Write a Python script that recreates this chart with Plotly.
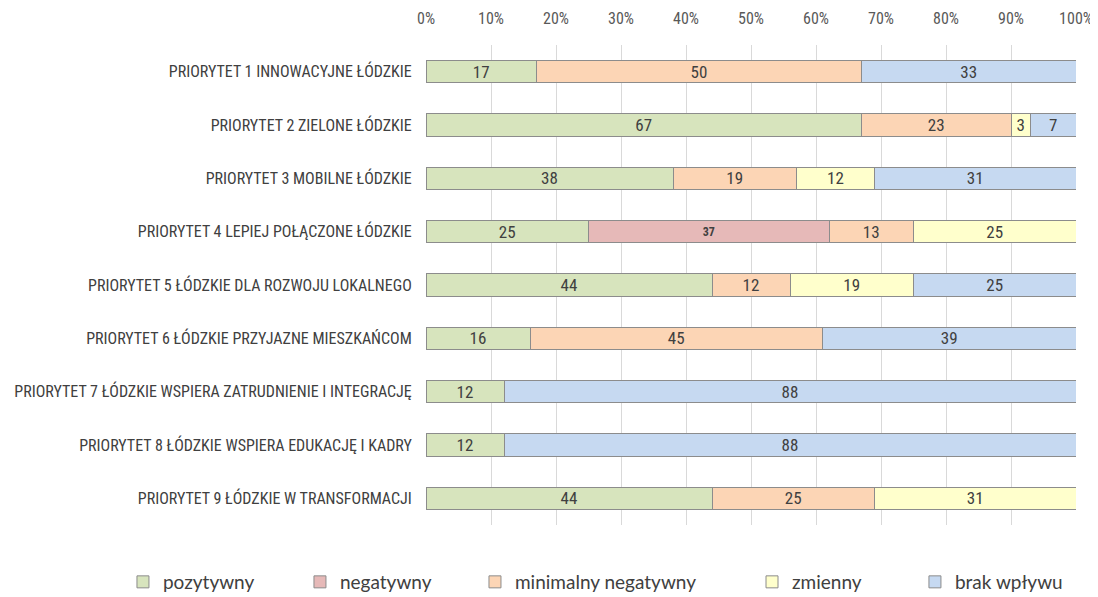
import plotly.graph_objects as go

# priorities (top to bottom)
priorities = [
    "PRIORYTET 1 INNOWACYJNE ŁÓDZKIE",
    "PRIORYTET 2 ZIELONE ŁÓDZKIE",
    "PRIORYTET 3 MOBILNE ŁÓDZKIE",
    "PRIORYTET 4 LEPIEJ POŁĄCZONE ŁÓDZKIE",
    "PRIORYTET 5 ŁÓDZKIE DLA ROZWOJU LOKALNEGO",
    "PRIORYTET 6 ŁÓDZKIE PRZYJAZNE MIESZKAŃCOM",
    "PRIORYTET 7 ŁÓDZKIE WSPIERA ZATRUDNIENIE I INTEGRACJĘ",
    "PRIORYTET 8 ŁÓDZKIE WSPIERA EDUKACJĘ I KADRY",
    "PRIORYTET 9 ŁÓDZKIE W TRANSFORMACJI",
]

pozytywny = [17, 67, 38, 25, 44, 16, 12, 12, 44]
negatywny = [0, 0, 0, 37, 0, 0, 0, 0, 0]
minimalny_negatywny = [50, 23, 19, 13, 12, 45, 0, 0, 25]
zmienny = [0, 3, 12, 25, 19, 0, 0, 0, 31]
brak_wplywu = [33, 7, 31, 0, 25, 39, 88, 88, 0]

tick_vals = [0, 10, 20, 30, 40, 50, 60, 70, 80, 90, 100]
tick_text = [f"{v}%" for v in tick_vals]

W, H = 1098, 597
PAD = 8  # page body margin in the browser

# name, values, colour, label size, bold label, legend id, legend x
series = [
    ("pozytywny", pozytywny, "#D7E4BD", 17, False, "legend", 0.1047),
    ("negatywny", negatywny, "#E6B9B8", 12, True, "legend2", 0.2659),
    ("minimalny negatywny", minimalny_negatywny, "#FCD5B5", 17, False, "legend3", 0.4253),
    ("zmienny", zmienny, "#FFFFCC", 17, False, "legend4", 0.6776),
    ("brak wpływu", brak_wplywu, "#C6D9F1", 17, False, "legend5", 0.8260),
]

FONT = "Roboto Condensed, Liberation Sans Narrow, Open Sans, sans-serif"
LEGEND_FONT = "Lato, Open Sans, sans-serif"

fig = go.Figure()
legends = {}
for name, vals, color, fsize, bold, leg, lx in series:
    labels = [(f"<b>{v}</b>" if bold else str(v)) if v else "" for v in vals]
    fig.add_trace(go.Bar(
        y=priorities,
        x=vals,
        name=name,
        orientation="h",
        legend=leg,
        showlegend=True,
        marker=dict(color=color, line=dict(color="#8C8C8C", width=1)),
        text=labels,
        textposition="inside",
        insidetextanchor="middle",
        constraintext="none",
        textangle=0,
        textfont=dict(size=fsize, color="#404040", family=FONT),
        width=0.42,
        hoverinfo="x+name",
    ))
    legends[leg] = dict(
        visible=True,
        orientation="h",
        x=lx, xanchor="left",
        y=1 - (582 - PAD) / H, yanchor="middle",
        font=dict(size=19, color="#404040", family=LEGEND_FONT),
        itemwidth=30,
        bgcolor="rgba(0,0,0,0)",
    )

fig.update_layout(
    barmode="stack",
    width=W,
    height=H,
    showlegend=True,
    margin=dict(l=0, r=0, t=0, b=0),
    plot_bgcolor="white",
    paper_bgcolor="white",
    font=dict(family=FONT, color="#595959"),
    **legends,
)

fig.update_xaxes(
    domain=[(426 - PAD) / W, (1076 - PAD) / W],
    side="top",
    range=[0, 100],
    tickvals=tick_vals,
    ticktext=tick_text,
    tickfont=dict(size=16, color="#595959"),
    showgrid=True,
    gridcolor="#D9D9D9",
    gridwidth=1,
    zeroline=False,
    ticks="outside",
    ticklen=14,
    tickcolor="rgba(0,0,0,0)",
    automargin=False,
    fixedrange=True,
)

fig.update_yaxes(
    domain=[1 - (525 - PAD) / H, 1 - (45 - PAD) / H],
    categoryorder="array",
    categoryarray=priorities,
    autorange="reversed",
    tickfont=dict(size=16, color="#404040"),
    ticks="outside",
    ticklen=10,
    tickcolor="rgba(0,0,0,0)",
    showgrid=False,
    automargin=False,
    fixedrange=True,
)

fig.write_html("out.html")
